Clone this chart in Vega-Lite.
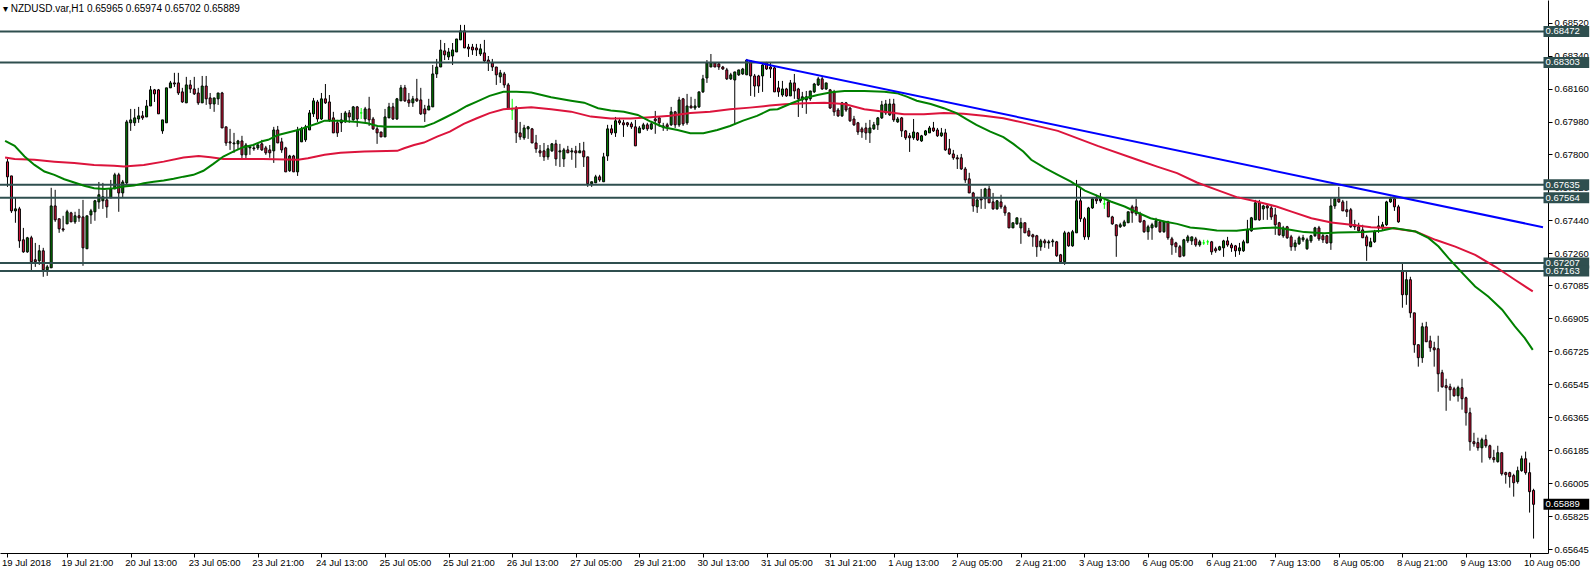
{
"$schema":"https://vega.github.io/schema/vega-lite/v6.json",
"width":1548,"height":553,
"autosize":{"type":"none"},
"padding":{"left":0,"top":0,"right":43,"bottom":18},
"background":"white",
"title":{"text":"▾ NZDUSD.var,H1  0.65965 0.65974 0.65702 0.65889","anchor":"start","frame":"group","orient":"top","baseline":"top","offset":-14,"fontSize":10,"fontWeight":"normal","font":"Liberation Sans","color":"#000000","dx":3},
"config":{"view":{"stroke":null},"font":"Liberation Sans","axis":{"labelOverlap":false,"labelFlush":false,"labelSeparation":0}},
"datasets":{
"candles":[
{"i":0,"o":0.6776,"h":0.67776,"l":0.67623,"c":0.67678},
{"i":1,"o":0.67683,"h":0.67683,"l":0.67481,"c":0.67492},
{"i":2,"o":0.67492,"h":0.67563,"l":0.67427,"c":0.67503},
{"i":3,"o":0.67503,"h":0.67514,"l":0.6729,"c":0.67328},
{"i":4,"o":0.67334,"h":0.67399,"l":0.67263,"c":0.67268},
{"i":5,"o":0.67268,"h":0.6735,"l":0.67263,"c":0.67345},
{"i":6,"o":0.67345,"h":0.67356,"l":0.67159,"c":0.67214},
{"i":7,"o":0.67225,"h":0.67317,"l":0.67186,"c":0.67214},
{"i":8,"o":0.67219,"h":0.67306,"l":0.67197,"c":0.67274},
{"i":9,"o":0.67274,"h":0.6729,"l":0.67132,"c":0.6717},
{"i":10,"o":0.6717,"h":0.67197,"l":0.67137,"c":0.67186},
{"i":11,"o":0.67181,"h":0.67618,"l":0.67181,"c":0.67519},
{"i":12,"o":0.67519,"h":0.67607,"l":0.67432,"c":0.67443},
{"i":13,"o":0.67449,"h":0.67449,"l":0.67372,"c":0.67394},
{"i":14,"o":0.67394,"h":0.67465,"l":0.67378,"c":0.67388},
{"i":15,"o":0.67421,"h":0.67498,"l":0.67421,"c":0.67487},
{"i":16,"o":0.67481,"h":0.67487,"l":0.67432,"c":0.67432},
{"i":17,"o":0.67432,"h":0.67487,"l":0.67421,"c":0.67465},
{"i":18,"o":0.67465,"h":0.67503,"l":0.67432,"c":0.67454},
{"i":19,"o":0.67459,"h":0.67552,"l":0.67192,"c":0.6729},
{"i":20,"o":0.67285,"h":0.67465,"l":0.67285,"c":0.67465},
{"i":21,"o":0.6747,"h":0.67503,"l":0.67421,"c":0.67492},
{"i":22,"o":0.67487,"h":0.67552,"l":0.67438,"c":0.67547},
{"i":23,"o":0.67541,"h":0.6765,"l":0.67503,"c":0.6758},
{"i":24,"o":0.67547,"h":0.67645,"l":0.67503,"c":0.67569},
{"i":25,"o":0.67552,"h":0.67607,"l":0.67454,"c":0.67514},
{"i":26,"o":0.67563,"h":0.67661,"l":0.67563,"c":0.67612},
{"i":27,"o":0.67612,"h":0.677,"l":0.67612,"c":0.67689},
{"i":28,"o":0.67689,"h":0.677,"l":0.67487,"c":0.6759},
{"i":29,"o":0.6759,"h":0.67661,"l":0.67563,"c":0.6765},
{"i":30,"o":0.67645,"h":0.67989,"l":0.67634,"c":0.67978},
{"i":31,"o":0.67973,"h":0.68049,"l":0.67929,"c":0.67989},
{"i":32,"o":0.67973,"h":0.68049,"l":0.67956,"c":0.68},
{"i":33,"o":0.67994,"h":0.6806,"l":0.67973,"c":0.68011},
{"i":34,"o":0.68011,"h":0.68038,"l":0.67989,"c":0.68},
{"i":35,"o":0.68005,"h":0.68098,"l":0.68005,"c":0.68065},
{"i":36,"o":0.68065,"h":0.68174,"l":0.68065,"c":0.68153},
{"i":37,"o":0.68153,"h":0.68158,"l":0.68087,"c":0.68131},
{"i":38,"o":0.68153,"h":0.68158,"l":0.68022,"c":0.68022},
{"i":39,"o":0.67929,"h":0.67989,"l":0.67913,"c":0.67989},
{"i":40,"o":0.67973,"h":0.68164,"l":0.67973,"c":0.68164},
{"i":41,"o":0.68164,"h":0.68202,"l":0.68164,"c":0.68191},
{"i":42,"o":0.68191,"h":0.68246,"l":0.68169,"c":0.68185},
{"i":43,"o":0.68191,"h":0.68246,"l":0.68125,"c":0.68136},
{"i":44,"o":0.68142,"h":0.68164,"l":0.68082,"c":0.68087},
{"i":45,"o":0.68082,"h":0.68224,"l":0.68082,"c":0.6818},
{"i":46,"o":0.6818,"h":0.68207,"l":0.68136,"c":0.68158},
{"i":47,"o":0.68158,"h":0.68224,"l":0.68125,"c":0.68131},
{"i":48,"o":0.68136,"h":0.68164,"l":0.68071,"c":0.68082},
{"i":49,"o":0.68082,"h":0.68229,"l":0.68082,"c":0.68174},
{"i":50,"o":0.68174,"h":0.68229,"l":0.68071,"c":0.68104},
{"i":51,"o":0.68109,"h":0.68136,"l":0.68049,"c":0.68076},
{"i":52,"o":0.68076,"h":0.68109,"l":0.68033,"c":0.68109},
{"i":53,"o":0.68104,"h":0.68136,"l":0.68071,"c":0.68136},
{"i":54,"o":0.68136,"h":0.68142,"l":0.67945,"c":0.67945},
{"i":55,"o":0.67951,"h":0.67951,"l":0.67847,"c":0.67863},
{"i":56,"o":0.67869,"h":0.6794,"l":0.67825,"c":0.67863},
{"i":57,"o":0.67858,"h":0.67918,"l":0.67809,"c":0.67863},
{"i":58,"o":0.67858,"h":0.6788,"l":0.67825,"c":0.67874},
{"i":59,"o":0.67874,"h":0.67902,"l":0.67771,"c":0.67798},
{"i":60,"o":0.67798,"h":0.67863,"l":0.67771,"c":0.67852},
{"i":61,"o":0.67836,"h":0.67852,"l":0.67798,"c":0.67842},
{"i":62,"o":0.67836,"h":0.67852,"l":0.6782,"c":0.67831},
{"i":63,"o":0.67836,"h":0.67863,"l":0.67825,"c":0.67852},
{"i":64,"o":0.67858,"h":0.6788,"l":0.6782,"c":0.67825},
{"i":65,"o":0.67836,"h":0.67847,"l":0.67798,"c":0.67809},
{"i":66,"o":0.67825,"h":0.67852,"l":0.67782,"c":0.67809},
{"i":67,"o":0.6782,"h":0.67951,"l":0.67754,"c":0.67934},
{"i":68,"o":0.67934,"h":0.67956,"l":0.67863,"c":0.67863},
{"i":69,"o":0.67869,"h":0.67891,"l":0.67809,"c":0.67825},
{"i":70,"o":0.67836,"h":0.67842,"l":0.67705,"c":0.67705},
{"i":71,"o":0.67711,"h":0.67798,"l":0.67705,"c":0.67792},
{"i":72,"o":0.67792,"h":0.67798,"l":0.67705,"c":0.67705},
{"i":73,"o":0.67705,"h":0.67951,"l":0.67683,"c":0.67934},
{"i":74,"o":0.67869,"h":0.67951,"l":0.67869,"c":0.6794},
{"i":75,"o":0.6788,"h":0.67962,"l":0.67869,"c":0.67951},
{"i":76,"o":0.67934,"h":0.68043,"l":0.67934,"c":0.68027},
{"i":77,"o":0.68022,"h":0.68109,"l":0.68005,"c":0.68093},
{"i":78,"o":0.68087,"h":0.68098,"l":0.67978,"c":0.67994},
{"i":79,"o":0.67994,"h":0.68136,"l":0.67989,"c":0.68104},
{"i":80,"o":0.68104,"h":0.68185,"l":0.68076,"c":0.68082},
{"i":81,"o":0.68087,"h":0.68125,"l":0.67978,"c":0.67989},
{"i":82,"o":0.68,"h":0.68033,"l":0.67918,"c":0.67918},
{"i":83,"o":0.67973,"h":0.67989,"l":0.67896,"c":0.67918},
{"i":84,"o":0.67973,"h":0.68027,"l":0.67923,"c":0.67989},
{"i":85,"o":0.67978,"h":0.68038,"l":0.67973,"c":0.68027},
{"i":86,"o":0.68027,"h":0.68043,"l":0.67973,"c":0.68005},
{"i":87,"o":0.67989,"h":0.68065,"l":0.67984,"c":0.6806},
{"i":88,"o":0.6806,"h":0.68065,"l":0.67951,"c":0.67994},
{"i":89,"o":0.68027,"h":0.68054,"l":0.67994,"c":0.68027},
{"i":90,"o":0.67994,"h":0.6806,"l":0.67978,"c":0.68049},
{"i":91,"o":0.68049,"h":0.68115,"l":0.67956,"c":0.67989},
{"i":92,"o":0.67994,"h":0.68005,"l":0.67934,"c":0.6794},
{"i":93,"o":0.6794,"h":0.67951,"l":0.67858,"c":0.67918},
{"i":94,"o":0.67923,"h":0.67923,"l":0.67896,"c":0.67896},
{"i":95,"o":0.67896,"h":0.68049,"l":0.67896,"c":0.68005},
{"i":96,"o":0.68,"h":0.68082,"l":0.68,"c":0.6806},
{"i":97,"o":0.6806,"h":0.68082,"l":0.67989,"c":0.67994},
{"i":98,"o":0.67994,"h":0.68109,"l":0.67989,"c":0.68104},
{"i":99,"o":0.68093,"h":0.6818,"l":0.68093,"c":0.68164},
{"i":100,"o":0.68164,"h":0.6818,"l":0.68087,"c":0.68093},
{"i":101,"o":0.68098,"h":0.68136,"l":0.6806,"c":0.68082},
{"i":102,"o":0.68082,"h":0.6812,"l":0.6806,"c":0.68104},
{"i":103,"o":0.68104,"h":0.68213,"l":0.68087,"c":0.68093},
{"i":104,"o":0.68098,"h":0.68164,"l":0.68016,"c":0.68022},
{"i":105,"o":0.68049,"h":0.68071,"l":0.67978,"c":0.68022},
{"i":106,"o":0.68043,"h":0.68104,"l":0.68043,"c":0.68065},
{"i":107,"o":0.6806,"h":0.68289,"l":0.6806,"c":0.6824},
{"i":108,"o":0.6824,"h":0.68322,"l":0.68218,"c":0.68278},
{"i":109,"o":0.68278,"h":0.68426,"l":0.68278,"c":0.68371},
{"i":110,"o":0.68366,"h":0.68409,"l":0.68316,"c":0.68344},
{"i":111,"o":0.68333,"h":0.68382,"l":0.68316,"c":0.6836},
{"i":112,"o":0.68338,"h":0.68409,"l":0.68289,"c":0.68371},
{"i":113,"o":0.6836,"h":0.68431,"l":0.6836,"c":0.68431},
{"i":114,"o":0.68426,"h":0.68508,"l":0.68426,"c":0.68475},
{"i":115,"o":0.68475,"h":0.68508,"l":0.68382,"c":0.68382},
{"i":116,"o":0.68387,"h":0.68404,"l":0.68333,"c":0.68377},
{"i":117,"o":0.68387,"h":0.68404,"l":0.68344,"c":0.68371},
{"i":118,"o":0.68382,"h":0.68404,"l":0.68338,"c":0.68371},
{"i":119,"o":0.68349,"h":0.68404,"l":0.68338,"c":0.68377},
{"i":120,"o":0.68355,"h":0.68426,"l":0.68306,"c":0.68311},
{"i":121,"o":0.68316,"h":0.68338,"l":0.68256,"c":0.683},
{"i":122,"o":0.683,"h":0.68322,"l":0.68256,"c":0.68278},
{"i":123,"o":0.68278,"h":0.68278,"l":0.6818,"c":0.68235},
{"i":124,"o":0.68224,"h":0.68262,"l":0.68191,"c":0.68246},
{"i":125,"o":0.6824,"h":0.68251,"l":0.68164,"c":0.6818},
{"i":126,"o":0.6818,"h":0.68191,"l":0.68049,"c":0.68049},
{"i":127,"o":0.68043,"h":0.68104,"l":0.67989,"c":0.68043},
{"i":128,"o":0.68054,"h":0.68065,"l":0.67863,"c":0.67918},
{"i":129,"o":0.67918,"h":0.67978,"l":0.6788,"c":0.67896},
{"i":130,"o":0.67891,"h":0.67962,"l":0.6788,"c":0.67945},
{"i":131,"o":0.6794,"h":0.67956,"l":0.67885,"c":0.67951},
{"i":132,"o":0.6794,"h":0.67945,"l":0.67863,"c":0.67863},
{"i":133,"o":0.67863,"h":0.67907,"l":0.67809,"c":0.67831},
{"i":134,"o":0.6782,"h":0.67852,"l":0.67787,"c":0.67809},
{"i":135,"o":0.6782,"h":0.67863,"l":0.67765,"c":0.67787},
{"i":136,"o":0.67787,"h":0.67852,"l":0.67771,"c":0.67831},
{"i":137,"o":0.6782,"h":0.67863,"l":0.67814,"c":0.67858},
{"i":138,"o":0.67858,"h":0.6788,"l":0.67738,"c":0.67776},
{"i":139,"o":0.67814,"h":0.67858,"l":0.67732,"c":0.6782},
{"i":140,"o":0.67776,"h":0.67836,"l":0.67732,"c":0.67825},
{"i":141,"o":0.67825,"h":0.67847,"l":0.67809,"c":0.67809},
{"i":142,"o":0.67814,"h":0.67836,"l":0.67771,"c":0.6782},
{"i":143,"o":0.6782,"h":0.67847,"l":0.67727,"c":0.67809},
{"i":144,"o":0.67809,"h":0.67863,"l":0.67809,"c":0.6782},
{"i":145,"o":0.6782,"h":0.67869,"l":0.67732,"c":0.67787},
{"i":146,"o":0.67787,"h":0.67787,"l":0.67623,"c":0.6764},
{"i":147,"o":0.6764,"h":0.67651,"l":0.67623,"c":0.67651},
{"i":148,"o":0.67645,"h":0.67689,"l":0.67645,"c":0.67678},
{"i":149,"o":0.67678,"h":0.67689,"l":0.67651,"c":0.67661},
{"i":150,"o":0.67651,"h":0.67809,"l":0.67651,"c":0.67787},
{"i":151,"o":0.67792,"h":0.67962,"l":0.67765,"c":0.6794},
{"i":152,"o":0.6794,"h":0.67962,"l":0.67907,"c":0.67918},
{"i":153,"o":0.67918,"h":0.68005,"l":0.67896,"c":0.67984},
{"i":154,"o":0.67984,"h":0.68,"l":0.67962,"c":0.67973},
{"i":155,"o":0.67973,"h":0.67989,"l":0.67896,"c":0.67962},
{"i":156,"o":0.67973,"h":0.67978,"l":0.67951,"c":0.67962},
{"i":157,"o":0.67967,"h":0.67978,"l":0.6794,"c":0.67951},
{"i":158,"o":0.67951,"h":0.67989,"l":0.67847,"c":0.67847},
{"i":159,"o":0.67918,"h":0.67956,"l":0.67918,"c":0.67945},
{"i":160,"o":0.6794,"h":0.67973,"l":0.67934,"c":0.67962},
{"i":161,"o":0.67962,"h":0.67973,"l":0.67929,"c":0.6794},
{"i":162,"o":0.6794,"h":0.67973,"l":0.67934,"c":0.67967},
{"i":163,"o":0.67994,"h":0.68038,"l":0.67913,"c":0.67984},
{"i":164,"o":0.68,"h":0.68005,"l":0.67951,"c":0.67973},
{"i":165,"o":0.67951,"h":0.67973,"l":0.67929,"c":0.67956},
{"i":166,"o":0.67962,"h":0.67973,"l":0.67929,"c":0.67951},
{"i":167,"o":0.67962,"h":0.6806,"l":0.67956,"c":0.68033},
{"i":168,"o":0.68033,"h":0.68038,"l":0.67945,"c":0.67962},
{"i":169,"o":0.67962,"h":0.68115,"l":0.67951,"c":0.68098},
{"i":170,"o":0.68104,"h":0.68109,"l":0.67956,"c":0.67967},
{"i":171,"o":0.67973,"h":0.68131,"l":0.67962,"c":0.68065},
{"i":172,"o":0.68065,"h":0.68115,"l":0.68054,"c":0.68054},
{"i":173,"o":0.68054,"h":0.68104,"l":0.68043,"c":0.68065},
{"i":174,"o":0.6806,"h":0.68142,"l":0.68054,"c":0.68142},
{"i":175,"o":0.68142,"h":0.68235,"l":0.68136,"c":0.68213},
{"i":176,"o":0.68218,"h":0.68316,"l":0.68191,"c":0.683},
{"i":177,"o":0.68278,"h":0.68349,"l":0.68278,"c":0.683},
{"i":178,"o":0.683,"h":0.683,"l":0.68278,"c":0.68278},
{"i":179,"o":0.68295,"h":0.683,"l":0.68262,"c":0.68278},
{"i":180,"o":0.68278,"h":0.68284,"l":0.68262,"c":0.68267},
{"i":181,"o":0.68262,"h":0.68273,"l":0.68207,"c":0.68213},
{"i":182,"o":0.68213,"h":0.68246,"l":0.68207,"c":0.68235},
{"i":183,"o":0.68207,"h":0.68251,"l":0.67962,"c":0.68251},
{"i":184,"o":0.68235,"h":0.68262,"l":0.68229,"c":0.68262},
{"i":185,"o":0.6824,"h":0.68273,"l":0.68235,"c":0.68267},
{"i":186,"o":0.68235,"h":0.68322,"l":0.68235,"c":0.68316},
{"i":187,"o":0.68311,"h":0.68316,"l":0.6812,"c":0.68229},
{"i":188,"o":0.68229,"h":0.6824,"l":0.68115,"c":0.68174},
{"i":189,"o":0.68229,"h":0.68235,"l":0.68136,"c":0.68174},
{"i":190,"o":0.68229,"h":0.68295,"l":0.68142,"c":0.68289},
{"i":191,"o":0.683,"h":0.68306,"l":0.68262,"c":0.68267},
{"i":192,"o":0.68278,"h":0.683,"l":0.68218,"c":0.68267},
{"i":193,"o":0.68273,"h":0.68278,"l":0.68142,"c":0.68142},
{"i":194,"o":0.68164,"h":0.68202,"l":0.68115,"c":0.68142},
{"i":195,"o":0.68125,"h":0.68202,"l":0.68115,"c":0.68158},
{"i":196,"o":0.68158,"h":0.68164,"l":0.68115,"c":0.6812},
{"i":197,"o":0.6812,"h":0.68207,"l":0.6812,"c":0.68191},
{"i":198,"o":0.68191,"h":0.6824,"l":0.68104,"c":0.68147},
{"i":199,"o":0.68158,"h":0.68164,"l":0.68005,"c":0.68104},
{"i":200,"o":0.68098,"h":0.68142,"l":0.68054,"c":0.68115},
{"i":201,"o":0.68098,"h":0.68147,"l":0.68022,"c":0.68115},
{"i":202,"o":0.68104,"h":0.68147,"l":0.68093,"c":0.68147},
{"i":203,"o":0.68142,"h":0.68191,"l":0.68136,"c":0.68185},
{"i":204,"o":0.6818,"h":0.68224,"l":0.68174,"c":0.68213},
{"i":205,"o":0.68213,"h":0.68229,"l":0.68153,"c":0.68158},
{"i":206,"o":0.68158,"h":0.68191,"l":0.68153,"c":0.68191},
{"i":207,"o":0.68153,"h":0.68158,"l":0.68049,"c":0.68054},
{"i":208,"o":0.68142,"h":0.68153,"l":0.68011,"c":0.68033},
{"i":209,"o":0.68043,"h":0.68054,"l":0.68005,"c":0.68011},
{"i":210,"o":0.68011,"h":0.68087,"l":0.68005,"c":0.68082},
{"i":211,"o":0.68082,"h":0.68087,"l":0.68033,"c":0.68043},
{"i":212,"o":0.68054,"h":0.6806,"l":0.67978,"c":0.67984},
{"i":213,"o":0.67994,"h":0.68011,"l":0.67956,"c":0.67962},
{"i":214,"o":0.67973,"h":0.67978,"l":0.67907,"c":0.67923},
{"i":215,"o":0.6794,"h":0.67951,"l":0.67891,"c":0.67923},
{"i":216,"o":0.67945,"h":0.67973,"l":0.6788,"c":0.67918},
{"i":217,"o":0.67918,"h":0.67989,"l":0.67863,"c":0.67945},
{"i":218,"o":0.6794,"h":0.67978,"l":0.67934,"c":0.67962},
{"i":219,"o":0.67962,"h":0.68005,"l":0.67934,"c":0.68},
{"i":220,"o":0.68,"h":0.68093,"l":0.67994,"c":0.68071},
{"i":221,"o":0.68027,"h":0.68098,"l":0.68016,"c":0.68076},
{"i":222,"o":0.68016,"h":0.68104,"l":0.68011,"c":0.68076},
{"i":223,"o":0.68076,"h":0.68104,"l":0.67978,"c":0.67989},
{"i":224,"o":0.67978,"h":0.68005,"l":0.67973,"c":0.67994},
{"i":225,"o":0.68,"h":0.68005,"l":0.67896,"c":0.67929},
{"i":226,"o":0.67929,"h":0.67934,"l":0.6788,"c":0.67891},
{"i":227,"o":0.67902,"h":0.67918,"l":0.67814,"c":0.67891},
{"i":228,"o":0.67891,"h":0.67994,"l":0.6788,"c":0.67923},
{"i":229,"o":0.67918,"h":0.67923,"l":0.67874,"c":0.6788},
{"i":230,"o":0.67874,"h":0.67907,"l":0.67869,"c":0.67902},
{"i":231,"o":0.67907,"h":0.67934,"l":0.67902,"c":0.67929},
{"i":232,"o":0.67918,"h":0.67956,"l":0.67918,"c":0.67945},
{"i":233,"o":0.67945,"h":0.67978,"l":0.67923,"c":0.67929},
{"i":234,"o":0.67934,"h":0.67945,"l":0.67896,"c":0.67902},
{"i":235,"o":0.67902,"h":0.67945,"l":0.67896,"c":0.67918},
{"i":236,"o":0.67918,"h":0.6794,"l":0.6782,"c":0.67825},
{"i":237,"o":0.67831,"h":0.67885,"l":0.67798,"c":0.67803},
{"i":238,"o":0.67803,"h":0.67825,"l":0.67771,"c":0.67782},
{"i":239,"o":0.67782,"h":0.67798,"l":0.67721,"c":0.67776},
{"i":240,"o":0.67782,"h":0.67803,"l":0.67716,"c":0.67721},
{"i":241,"o":0.67721,"h":0.67732,"l":0.67645,"c":0.67661},
{"i":242,"o":0.67667,"h":0.677,"l":0.6759,"c":0.6759},
{"i":243,"o":0.6759,"h":0.67596,"l":0.67487,"c":0.67519},
{"i":244,"o":0.67514,"h":0.67569,"l":0.67481,"c":0.67552},
{"i":245,"o":0.67558,"h":0.67612,"l":0.67503,"c":0.67552},
{"i":246,"o":0.67558,"h":0.67618,"l":0.67503,"c":0.67612},
{"i":247,"o":0.67612,"h":0.67629,"l":0.67536,"c":0.67536},
{"i":248,"o":0.67541,"h":0.6759,"l":0.67498,"c":0.67503},
{"i":249,"o":0.67503,"h":0.67552,"l":0.67498,"c":0.67547},
{"i":250,"o":0.67541,"h":0.6758,"l":0.67503,"c":0.67514},
{"i":251,"o":0.67514,"h":0.67525,"l":0.67465,"c":0.67481},
{"i":252,"o":0.67481,"h":0.67481,"l":0.67399,"c":0.67399},
{"i":253,"o":0.67399,"h":0.67427,"l":0.67399,"c":0.67427},
{"i":254,"o":0.67421,"h":0.67454,"l":0.67416,"c":0.67454},
{"i":255,"o":0.67399,"h":0.67454,"l":0.67312,"c":0.67427},
{"i":256,"o":0.67427,"h":0.67427,"l":0.67372,"c":0.67372},
{"i":257,"o":0.67383,"h":0.67399,"l":0.6735,"c":0.67356},
{"i":258,"o":0.67361,"h":0.67367,"l":0.67296,"c":0.6735},
{"i":259,"o":0.67356,"h":0.67361,"l":0.67241,"c":0.67296},
{"i":260,"o":0.67296,"h":0.67339,"l":0.67274,"c":0.67328},
{"i":261,"o":0.67328,"h":0.67339,"l":0.6729,"c":0.67317},
{"i":262,"o":0.67317,"h":0.67334,"l":0.67285,"c":0.67323},
{"i":263,"o":0.67323,"h":0.67339,"l":0.67296,"c":0.67328},
{"i":264,"o":0.67323,"h":0.67328,"l":0.67241,"c":0.67247},
{"i":265,"o":0.67252,"h":0.67257,"l":0.67208,"c":0.67214},
{"i":266,"o":0.67214,"h":0.67383,"l":0.67197,"c":0.67372},
{"i":267,"o":0.67372,"h":0.67378,"l":0.67296,"c":0.67301},
{"i":268,"o":0.67301,"h":0.67388,"l":0.67296,"c":0.67378},
{"i":269,"o":0.67372,"h":0.67661,"l":0.67372,"c":0.67547},
{"i":270,"o":0.67547,"h":0.67623,"l":0.67432,"c":0.67449},
{"i":271,"o":0.67449,"h":0.67459,"l":0.67334,"c":0.6735},
{"i":272,"o":0.6735,"h":0.67514,"l":0.67334,"c":0.67508},
{"i":273,"o":0.67508,"h":0.67563,"l":0.67503,"c":0.67558},
{"i":274,"o":0.67558,"h":0.6758,"l":0.6753,"c":0.67547},
{"i":275,"o":0.67547,"h":0.6759,"l":0.67536,"c":0.67558},
{"i":276,"o":0.6753,"h":0.67552,"l":0.67503,"c":0.6753},
{"i":277,"o":0.67541,"h":0.67552,"l":0.67459,"c":0.67459},
{"i":278,"o":0.67459,"h":0.67465,"l":0.67416,"c":0.67421},
{"i":279,"o":0.67416,"h":0.67416,"l":0.67241,"c":0.67356},
{"i":280,"o":0.67405,"h":0.67427,"l":0.67399,"c":0.67416},
{"i":281,"o":0.6741,"h":0.67443,"l":0.67405,"c":0.67432},
{"i":282,"o":0.67427,"h":0.67487,"l":0.67427,"c":0.67487},
{"i":283,"o":0.67514,"h":0.67525,"l":0.67427,"c":0.67481},
{"i":284,"o":0.67514,"h":0.67558,"l":0.67465,"c":0.67476},
{"i":285,"o":0.67476,"h":0.67487,"l":0.67427,"c":0.67432},
{"i":286,"o":0.67438,"h":0.67443,"l":0.67372,"c":0.67378},
{"i":287,"o":0.67378,"h":0.67416,"l":0.67334,"c":0.67405},
{"i":288,"o":0.67399,"h":0.67427,"l":0.67334,"c":0.67416},
{"i":289,"o":0.67405,"h":0.67454,"l":0.67399,"c":0.67438},
{"i":290,"o":0.67432,"h":0.67443,"l":0.67372,"c":0.67378},
{"i":291,"o":0.67378,"h":0.67438,"l":0.67372,"c":0.67432},
{"i":292,"o":0.67432,"h":0.67438,"l":0.67334,"c":0.67345},
{"i":293,"o":0.67339,"h":0.6735,"l":0.67252,"c":0.67306},
{"i":294,"o":0.67317,"h":0.67323,"l":0.67263,"c":0.67296},
{"i":295,"o":0.67296,"h":0.67306,"l":0.67241,"c":0.67241},
{"i":296,"o":0.67247,"h":0.67339,"l":0.67241,"c":0.67334},
{"i":297,"o":0.67328,"h":0.67361,"l":0.67317,"c":0.6735},
{"i":298,"o":0.67328,"h":0.6735,"l":0.67306,"c":0.6735},
{"i":299,"o":0.67339,"h":0.6735,"l":0.67296,"c":0.67306},
{"i":300,"o":0.67306,"h":0.67334,"l":0.67296,"c":0.67323},
{"i":301,"o":0.67317,"h":0.67334,"l":0.67306,"c":0.67317},
{"i":302,"o":0.67323,"h":0.67334,"l":0.67306,"c":0.67323},
{"i":303,"o":0.67323,"h":0.67328,"l":0.67252,"c":0.67268},
{"i":304,"o":0.67285,"h":0.67296,"l":0.67263,"c":0.67274},
{"i":305,"o":0.67279,"h":0.67301,"l":0.67274,"c":0.67296},
{"i":306,"o":0.6729,"h":0.67334,"l":0.67241,"c":0.67328},
{"i":307,"o":0.67328,"h":0.6735,"l":0.67296,"c":0.67306},
{"i":308,"o":0.67306,"h":0.67317,"l":0.67268,"c":0.6729},
{"i":309,"o":0.67301,"h":0.67306,"l":0.67241,"c":0.67274},
{"i":310,"o":0.67274,"h":0.67317,"l":0.67252,"c":0.6729},
{"i":311,"o":0.67274,"h":0.67334,"l":0.67268,"c":0.67323},
{"i":312,"o":0.67317,"h":0.67443,"l":0.67317,"c":0.67388},
{"i":313,"o":0.67383,"h":0.67459,"l":0.67378,"c":0.67454},
{"i":314,"o":0.67443,"h":0.67552,"l":0.67443,"c":0.67536},
{"i":315,"o":0.67536,"h":0.67552,"l":0.67438,"c":0.67443},
{"i":316,"o":0.67503,"h":0.67525,"l":0.67443,"c":0.67519},
{"i":317,"o":0.67519,"h":0.67525,"l":0.67443,"c":0.67508},
{"i":318,"o":0.67508,"h":0.67525,"l":0.67443,"c":0.67459},
{"i":319,"o":0.6747,"h":0.67508,"l":0.67361,"c":0.67416},
{"i":320,"o":0.67427,"h":0.67432,"l":0.67356,"c":0.67361},
{"i":321,"o":0.67356,"h":0.6741,"l":0.67345,"c":0.67399},
{"i":322,"o":0.67405,"h":0.6741,"l":0.67339,"c":0.67345},
{"i":323,"o":0.6735,"h":0.67361,"l":0.67274,"c":0.67296},
{"i":324,"o":0.67296,"h":0.67334,"l":0.67274,"c":0.67317},
{"i":325,"o":0.67312,"h":0.67356,"l":0.67306,"c":0.67345},
{"i":326,"o":0.67334,"h":0.67361,"l":0.67323,"c":0.67345},
{"i":327,"o":0.67285,"h":0.67345,"l":0.67279,"c":0.67334},
{"i":328,"o":0.67328,"h":0.67361,"l":0.67317,"c":0.67356},
{"i":329,"o":0.67356,"h":0.67405,"l":0.6735,"c":0.67399},
{"i":330,"o":0.67399,"h":0.6741,"l":0.67328,"c":0.67339},
{"i":331,"o":0.67356,"h":0.67367,"l":0.67317,"c":0.67334},
{"i":332,"o":0.67356,"h":0.67361,"l":0.67312,"c":0.67317},
{"i":333,"o":0.67317,"h":0.67563,"l":0.67279,"c":0.67519},
{"i":334,"o":0.67519,"h":0.67563,"l":0.67503,"c":0.67558},
{"i":335,"o":0.67558,"h":0.67623,"l":0.67536,"c":0.67541},
{"i":336,"o":0.67541,"h":0.67552,"l":0.67492,"c":0.67492},
{"i":337,"o":0.67498,"h":0.67547,"l":0.67459,"c":0.67487},
{"i":338,"o":0.67498,"h":0.67508,"l":0.67399,"c":0.67405},
{"i":339,"o":0.67405,"h":0.67443,"l":0.67388,"c":0.67416},
{"i":340,"o":0.67405,"h":0.67427,"l":0.67378,"c":0.67383},
{"i":341,"o":0.67388,"h":0.67416,"l":0.67345,"c":0.67345},
{"i":342,"o":0.6735,"h":0.67361,"l":0.67219,"c":0.67301},
{"i":343,"o":0.67296,"h":0.67345,"l":0.67296,"c":0.67323},
{"i":344,"o":0.67323,"h":0.67388,"l":0.67317,"c":0.67378},
{"i":345,"o":0.67399,"h":0.67465,"l":0.67372,"c":0.6741},
{"i":346,"o":0.67399,"h":0.67432,"l":0.67388,"c":0.67416},
{"i":347,"o":0.67416,"h":0.67547,"l":0.6741,"c":0.67541},
{"i":348,"o":0.67541,"h":0.67569,"l":0.67536,"c":0.67558},
{"i":349,"o":0.67558,"h":0.67569,"l":0.67492,"c":0.67514},
{"i":350,"o":0.67514,"h":0.67525,"l":0.67427,"c":0.67432},
{"i":351,"o":0.67165,"h":0.67208,"l":0.66963,"c":0.67034},
{"i":352,"o":0.67034,"h":0.67159,"l":0.66979,"c":0.67116},
{"i":353,"o":0.67116,"h":0.67132,"l":0.66908,"c":0.66935},
{"i":354,"o":0.66935,"h":0.66935,"l":0.66717,"c":0.66761},
{"i":355,"o":0.66761,"h":0.66761,"l":0.66641,"c":0.6669},
{"i":356,"o":0.6669,"h":0.66881,"l":0.66662,"c":0.66859},
{"i":357,"o":0.66859,"h":0.66886,"l":0.66777,"c":0.66777},
{"i":358,"o":0.66782,"h":0.6681,"l":0.66722,"c":0.66744},
{"i":359,"o":0.66744,"h":0.66777,"l":0.66641,"c":0.66733},
{"i":360,"o":0.66739,"h":0.6681,"l":0.66504,"c":0.66602},
{"i":361,"o":0.66608,"h":0.66624,"l":0.66526,"c":0.66531},
{"i":362,"o":0.66537,"h":0.66575,"l":0.664,"c":0.66526},
{"i":363,"o":0.66531,"h":0.66548,"l":0.66455,"c":0.66515},
{"i":364,"o":0.6652,"h":0.66531,"l":0.66477,"c":0.66482},
{"i":365,"o":0.66482,"h":0.66537,"l":0.6645,"c":0.66526},
{"i":366,"o":0.66526,"h":0.66575,"l":0.66406,"c":0.66466},
{"i":367,"o":0.66471,"h":0.66477,"l":0.66319,"c":0.66389},
{"i":368,"o":0.66389,"h":0.66417,"l":0.66182,"c":0.66231},
{"i":369,"o":0.66231,"h":0.6628,"l":0.66204,"c":0.6622},
{"i":370,"o":0.66226,"h":0.66253,"l":0.66182,"c":0.66198},
{"i":371,"o":0.66198,"h":0.66253,"l":0.66117,"c":0.66242},
{"i":372,"o":0.66242,"h":0.66269,"l":0.66198,"c":0.66209},
{"i":373,"o":0.66209,"h":0.66215,"l":0.66133,"c":0.66144},
{"i":374,"o":0.66144,"h":0.66187,"l":0.66117,"c":0.66133},
{"i":375,"o":0.66122,"h":0.66209,"l":0.66117,"c":0.66171},
{"i":376,"o":0.66171,"h":0.66171,"l":0.66046,"c":0.66056},
{"i":377,"o":0.66062,"h":0.66067,"l":0.66002,"c":0.66051},
{"i":378,"o":0.66062,"h":0.66067,"l":0.6598,"c":0.6604},
{"i":379,"o":0.66046,"h":0.66056,"l":0.65931,"c":0.66007},
{"i":380,"o":0.66013,"h":0.66095,"l":0.66002,"c":0.66073},
{"i":381,"o":0.66073,"h":0.66155,"l":0.66067,"c":0.66138},
{"i":382,"o":0.66138,"h":0.66177,"l":0.66051,"c":0.66062},
{"i":383,"o":0.66062,"h":0.66117,"l":0.65844,"c":0.65958},
{"i":384,"o":0.65965,"h":0.65974,"l":0.65702,"c":0.65889}
],
"maFast":[
{"i":-0.6,"p":0.67874},{"i":1.8,"p":0.67847},{"i":4.3,"p":0.67789},{"i":6.8,"p":0.67743},{"i":9.3,"p":0.67707},{"i":11.8,"p":0.67689},{"i":14.3,"p":0.67665},{"i":16.8,"p":0.67647},{"i":19.3,"p":0.67629},{"i":21.8,"p":0.67616},{"i":24.3,"p":0.67611},{"i":26.8,"p":0.67616},{"i":29.3,"p":0.67625},{"i":31.8,"p":0.6763},{"i":34.3,"p":0.67643},{"i":36.8,"p":0.67651},{"i":39.3,"p":0.67658},{"i":41.8,"p":0.67667},{"i":44.3,"p":0.67679},{"i":46.8,"p":0.67689},{"i":49.3,"p":0.67711},{"i":51.8,"p":0.67749},{"i":54.3,"p":0.67789},{"i":56.8,"p":0.67816},{"i":59.3,"p":0.6784},{"i":61.8,"p":0.67852},{"i":64.3,"p":0.67874},{"i":65.6,"p":0.6788},{"i":68.1,"p":0.67907},{"i":70.6,"p":0.6792},{"i":73.1,"p":0.67934},{"i":75.6,"p":0.67952},{"i":78.1,"p":0.67971},{"i":79.8,"p":0.67985},{"i":83.1,"p":0.67985},{"i":88.1,"p":0.67978},{"i":90.6,"p":0.67971},{"i":93.1,"p":0.67956},{"i":95.6,"p":0.67952},{"i":104.8,"p":0.67952},{"i":107.3,"p":0.67971},{"i":109.8,"p":0.67998},{"i":113.1,"p":0.68034},{"i":115.6,"p":0.68065},{"i":118.1,"p":0.68089},{"i":121.3,"p":0.6812},{"i":124.8,"p":0.68143},{"i":128.1,"p":0.68143},{"i":131.8,"p":0.68138},{"i":136.8,"p":0.68113},{"i":141.8,"p":0.68094},{"i":145.1,"p":0.68083},{"i":148.6,"p":0.68053},{"i":151.8,"p":0.6804},{"i":155.1,"p":0.68034},{"i":158.6,"p":0.68016},{"i":161.8,"p":0.6798},{"i":165.1,"p":0.67949},{"i":168.6,"p":0.67934},{"i":171.8,"p":0.67916},{"i":175.1,"p":0.67916},{"i":178.6,"p":0.67934},{"i":181.8,"p":0.67956},{"i":185.1,"p":0.67985},{"i":188.6,"p":0.68011},{"i":191.8,"p":0.68044},{"i":193.8,"p":0.68047},{"i":197.3,"p":0.6808},{"i":200.6,"p":0.68107},{"i":203.8,"p":0.68125},{"i":207.3,"p":0.6814},{"i":210.6,"p":0.68147},{"i":215.6,"p":0.68147},{"i":220.6,"p":0.68143},{"i":223.8,"p":0.68135},{"i":226.3,"p":0.68116},{"i":228.8,"p":0.68094},{"i":232.3,"p":0.68076},{"i":235.6,"p":0.68053},{"i":238.8,"p":0.68026},{"i":241.3,"p":0.67993},{"i":243.8,"p":0.67962},{"i":247.3,"p":0.67925},{"i":250.6,"p":0.67895},{"i":253.1,"p":0.67858},{"i":255.6,"p":0.67816},{"i":257.6,"p":0.67771},{"i":261.1,"p":0.67725},{"i":264.3,"p":0.67689},{"i":267.6,"p":0.67652},{"i":271.1,"p":0.67603},{"i":274.3,"p":0.67574},{"i":277.6,"p":0.67543},{"i":281.1,"p":0.67516},{"i":284.3,"p":0.67483},{"i":287.6,"p":0.67452},{"i":291.1,"p":0.67434},{"i":294.3,"p":0.67421},{"i":297.6,"p":0.67401},{"i":301.1,"p":0.67394},{"i":304.3,"p":0.67385},{"i":309.3,"p":0.67383},{"i":312.6,"p":0.67392},{"i":316.1,"p":0.67398},{"i":319.3,"p":0.67401},{"i":323.1,"p":0.67388},{"i":326.3,"p":0.67376},{"i":331.3,"p":0.6737},{"i":334.8,"p":0.67374},{"i":341.3,"p":0.67377},{"i":345.6,"p":0.67383},{"i":348.8,"p":0.67398},{"i":354.3,"p":0.67379},{"i":357.6,"p":0.67343},{"i":360.1,"p":0.67297},{"i":362.6,"p":0.67234},{"i":366.1,"p":0.67152},{"i":369.3,"p":0.67079},{"i":372.6,"p":0.67024},{"i":376.1,"p":0.66952},{"i":379.3,"p":0.66861},{"i":381.8,"p":0.66797},{"i":383.8,"p":0.66733}
],
"maSlow":[
{"i":-0.6,"p":0.67783},{"i":1.8,"p":0.67776},{"i":6.8,"p":0.67771},{"i":11.8,"p":0.67761},{"i":16.8,"p":0.67753},{"i":21.8,"p":0.67743},{"i":26.8,"p":0.67738},{"i":29.3,"p":0.67734},{"i":34.3,"p":0.67743},{"i":39.3,"p":0.67761},{"i":44.3,"p":0.67783},{"i":48.1,"p":0.67792},{"i":51.1,"p":0.67785},{"i":54.3,"p":0.67776},{"i":64.3,"p":0.67776},{"i":73.1,"p":0.67771},{"i":75.6,"p":0.6778},{"i":79.8,"p":0.67798},{"i":83.8,"p":0.6781},{"i":89.8,"p":0.67816},{"i":98.1,"p":0.6782},{"i":99.8,"p":0.67834},{"i":102.3,"p":0.67852},{"i":104.8,"p":0.67865},{"i":108.1,"p":0.67898},{"i":111.3,"p":0.67925},{"i":114.8,"p":0.67967},{"i":118.1,"p":0.67998},{"i":121.3,"p":0.68026},{"i":124.8,"p":0.68047},{"i":128.1,"p":0.68053},{"i":131.8,"p":0.68058},{"i":136.8,"p":0.68047},{"i":141.8,"p":0.68034},{"i":146.8,"p":0.68007},{"i":151.8,"p":0.67996},{"i":156.8,"p":0.67996},{"i":161.8,"p":0.68004},{"i":166.8,"p":0.68011},{"i":171.8,"p":0.68026},{"i":176.8,"p":0.68034},{"i":181.8,"p":0.68047},{"i":186.8,"p":0.68056},{"i":191.8,"p":0.68067},{"i":195.6,"p":0.68075},{"i":200.6,"p":0.6808},{"i":205.6,"p":0.68083},{"i":210.6,"p":0.68076},{"i":215.6,"p":0.68047},{"i":220.6,"p":0.68033},{"i":225.6,"p":0.6802},{"i":230.6,"p":0.6802},{"i":235.6,"p":0.68026},{"i":240.6,"p":0.68022},{"i":245.6,"p":0.68011},{"i":250.6,"p":0.67998},{"i":255.6,"p":0.67974},{"i":264.3,"p":0.67929},{"i":274.3,"p":0.67847},{"i":284.3,"p":0.67771},{"i":289.3,"p":0.67734},{"i":294.3,"p":0.67698},{"i":299.3,"p":0.67647},{"i":304.3,"p":0.67607},{"i":309.3,"p":0.67567},{"i":314.3,"p":0.67543},{"i":319.3,"p":0.67516},{"i":323.1,"p":0.67488},{"i":328.1,"p":0.67452},{"i":333.1,"p":0.67428},{"i":338.1,"p":0.67416},{"i":343.1,"p":0.67403},{"i":348.1,"p":0.67398},{"i":354.3,"p":0.67379},{"i":359.3,"p":0.67334},{"i":364.3,"p":0.67297},{"i":369.3,"p":0.67252},{"i":374.3,"p":0.67188},{"i":379.3,"p":0.67116},{"i":383.8,"p":0.67052}
],
"trend":[{"i":185.8,"p":0.68316},{"i":386.375,"p":0.67403}],
"levels":[{"p":0.68472},{"p":0.68303},{"p":0.67635},{"p":0.67564},{"p":0.67207},{"p":0.67163}],
"last":[{"p":0.65889}]
},
"layer":[
{"data":{"name":"candles"},"mark":{"type":"rule","strokeWidth":1},
 "encoding":{
  "x":{"field":"i","type":"quantitative","scale":{"domain":[-0.625,386.375],"nice":false,"zero":false},
   "axis":{"orient":"bottom","title":null,"grid":false,"tickCount":60,"values":[0,15,31,47,63,79,95,111,127,143,159,175,191,207,223,239,255,271,287,303,319,335,351,367,383],
    "labelExpr":"datum.value == 0 ? '19 Jul 2018' : ['19 Jul 21:00','20 Jul 13:00','23 Jul 05:00','23 Jul 21:00','24 Jul 13:00','25 Jul 05:00','25 Jul 21:00','26 Jul 13:00','27 Jul 05:00','29 Jul 21:00','30 Jul 13:00','31 Jul 05:00','31 Jul 21:00','1 Aug 13:00','2 Aug 05:00','2 Aug 21:00','3 Aug 13:00','6 Aug 05:00','6 Aug 21:00','7 Aug 13:00','8 Aug 05:00','8 Aug 21:00','9 Aug 13:00','10 Aug 05:00'][(datum.value - 15) / 16]",
    "domainColor":"#000000","domainWidth":1,"tickColor":"#000000","tickSize":4,"labelAlign":"left","labelBaseline":"top","labelOffset":-6,"labelPadding":0,"labelFontSize":9.5,"labelFont":"Liberation Sans","labelColor":"#000000","labelOverlap":false,"labelFlush":false}},
  "y":{"field":"l","type":"quantitative","scale":{"domain":[0.656232,0.686439],"nice":false,"zero":false},
   "axis":{"orient":"right","title":null,"grid":false,"tickCount":40,"values":[0.65645,0.65825,0.66005,0.66185,0.66365,0.66545,0.66725,0.66905,0.67085,0.6726,0.6744,0.6762,0.678,0.6798,0.6816,0.6834,0.6852],
    "format":".5f","domainColor":"#000000","domainWidth":1,"tickColor":"#000000","tickSize":4,"labelPadding":2,"labelFontSize":9.5,"labelFont":"Liberation Sans","labelColor":"#000000","labelOverlap":false,"labelFlush":false}},
  "y2":{"field":"h"},
  "color":{"condition":{"test":"datum.o == datum.c","value":"#00FF00"},"value":"#000000"}
 }},
{"data":{"name":"candles"},"mark":{"type":"bar","size":2,"strokeWidth":1},
 "encoding":{
  "x":{"field":"i","type":"quantitative","scale":{"domain":[-0.625,386.375],"nice":false,"zero":false},"axis":{"title":null}},
  "y":{"field":"o","type":"quantitative","scale":{"domain":[0.656232,0.686439],"nice":false,"zero":false},"axis":{"title":null}},
  "y2":{"field":"c"},
  "fill":{"condition":{"test":"datum.c > datum.o","value":"#008000"},"value":"#DC143C"},
  "stroke":{"condition":{"test":"datum.o == datum.c","value":"#00FF00"},"value":"#000000"}
 }},
{"data":{"name":"levels"},"mark":{"type":"rule","color":"#2F4F4F","strokeWidth":2},
 "encoding":{"y":{"field":"p","type":"quantitative","scale":{"domain":[0.656232,0.686439],"nice":false,"zero":false},"axis":{"title":null}}}},
{"data":{"name":"maSlow"},"mark":{"type":"line","color":"#DC143C","strokeWidth":2,"clip":true},
 "encoding":{
  "x":{"field":"i","type":"quantitative","scale":{"domain":[-0.625,386.375],"nice":false,"zero":false},"axis":{"title":null}},
  "y":{"field":"p","type":"quantitative","scale":{"domain":[0.656232,0.686439],"nice":false,"zero":false},"axis":{"title":null}}}},
{"data":{"name":"maFast"},"mark":{"type":"line","color":"#008000","strokeWidth":2,"clip":true},
 "encoding":{
  "x":{"field":"i","type":"quantitative","scale":{"domain":[-0.625,386.375],"nice":false,"zero":false},"axis":{"title":null}},
  "y":{"field":"p","type":"quantitative","scale":{"domain":[0.656232,0.686439],"nice":false,"zero":false},"axis":{"title":null}}}},
{"data":{"name":"trend"},"mark":{"type":"line","color":"#0000FF","strokeWidth":2,"clip":true},
 "encoding":{
  "x":{"field":"i","type":"quantitative","scale":{"domain":[-0.625,386.375],"nice":false,"zero":false},"axis":{"title":null}},
  "y":{"field":"p","type":"quantitative","scale":{"domain":[0.656232,0.686439],"nice":false,"zero":false},"axis":{"title":null}}}},
{"data":{"name":"levels"},"mark":{"type":"rule","color":"#2F4F4F","strokeWidth":11,"strokeCap":"butt"},
 "encoding":{
  "x":{"datum":386.5,"type":"quantitative","scale":{"domain":[-0.625,386.375],"nice":false,"zero":false},"axis":{"title":null}},
  "x2":{"datum":398},
  "y":{"field":"p","type":"quantitative","scale":{"domain":[0.656232,0.686439],"nice":false,"zero":false},"axis":{"title":null}}}},
{"data":{"name":"levels"},"mark":{"type":"text","color":"#FFFFFF","align":"left","baseline":"middle","fontSize":9.5,"font":"Liberation Sans"},
 "encoding":{
  "x":{"datum":387.0,"type":"quantitative","scale":{"domain":[-0.625,386.375],"nice":false,"zero":false},"axis":{"title":null}},
  "y":{"field":"p","type":"quantitative","scale":{"domain":[0.656232,0.686439],"nice":false,"zero":false},"axis":{"title":null}},
  "text":{"field":"p","type":"quantitative","format":".5f"}}},
{"data":{"name":"last"},"mark":{"type":"rule","color":"#000000","strokeWidth":11,"strokeCap":"butt"},
 "encoding":{
  "x":{"datum":386.5,"type":"quantitative","scale":{"domain":[-0.625,386.375],"nice":false,"zero":false},"axis":{"title":null}},
  "x2":{"datum":398},
  "y":{"field":"p","type":"quantitative","scale":{"domain":[0.656232,0.686439],"nice":false,"zero":false},"axis":{"title":null}}}},
{"data":{"name":"last"},"mark":{"type":"text","color":"#FFFFFF","align":"left","baseline":"middle","fontSize":9.5,"font":"Liberation Sans"},
 "encoding":{
  "x":{"datum":387.0,"type":"quantitative","scale":{"domain":[-0.625,386.375],"nice":false,"zero":false},"axis":{"title":null}},
  "y":{"field":"p","type":"quantitative","scale":{"domain":[0.656232,0.686439],"nice":false,"zero":false},"axis":{"title":null}},
  "text":{"field":"p","type":"quantitative","format":".5f"}}}
]
}
